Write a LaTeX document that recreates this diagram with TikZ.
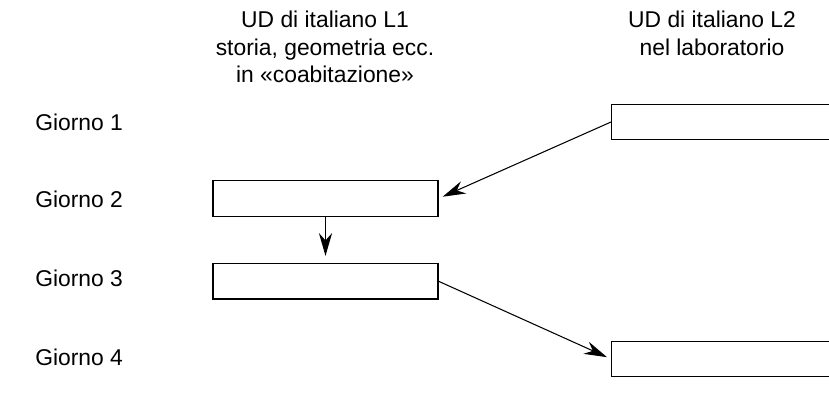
\documentclass[tikz,border=0pt]{standalone}
\usepackage{fontspec}
\setmainfont{Liberation Sans}
\usetikzlibrary{arrows.meta,positioning}
\tikzset{
  daybox/.style={draw, line width=0.75pt, inner sep=0pt,
    minimum width=4.5cm, minimum height=0.71cm},
  labbox/.style={daybox, minimum width=5cm, anchor=west},
  daylabel/.style={anchor=west, inner sep=0pt, font=\fontsize{13}{15.6}\selectfont},
  colhead/.style={anchor=north, inner sep=0pt, align=center,
    font=\fontsize{13}{15.6}\selectfont},
  dayarrow/.style={-{Stealth[length=13pt,width=7.5pt]}, line width=0.6pt, shorten >=2.5pt}
}

\begin{document}
\begin{tikzpicture}[x=0.02cm, y=-0.02cm]
    \useasboundingbox (0,0) rectangle (829,405);
    \clip (0,0) rectangle (829,405);
    % intestazioni delle colonne
    \node[colhead] (headL1) at (325,11) {UD di italiano L1\\storia, geometria ecc.\\in «coabitazione»};
    \node[colhead] (headL2) at (712,11) {UD di italiano L2\\nel laboratorio};
    % giorni
    \node[daylabel] (day1) at (35,122) {Giorno 1};
    \node[daylabel] (day2) at (35,199) {Giorno 2};
    \node[daylabel] (day3) at (35,278) {Giorno 3};
    \node[daylabel] (day4) at (35,357) {Giorno 4};
    % riquadri
    \node[labbox] (lab1) at (611,122) {};
    \node[daybox] (uda2) at (325.5,198.5) {};
    \node[daybox, below=0.92cm of uda2] (uda3) {};
    \node[labbox] (lab4) at (611,359) {};
    \draw[dayarrow] (lab1.west) -- (uda2.east);
    \draw[dayarrow, shorten >=4pt] (uda2) -- (uda3);
    \draw[dayarrow] (uda3.east) -- (lab4.west);
  \end{tikzpicture}
\end{document}
